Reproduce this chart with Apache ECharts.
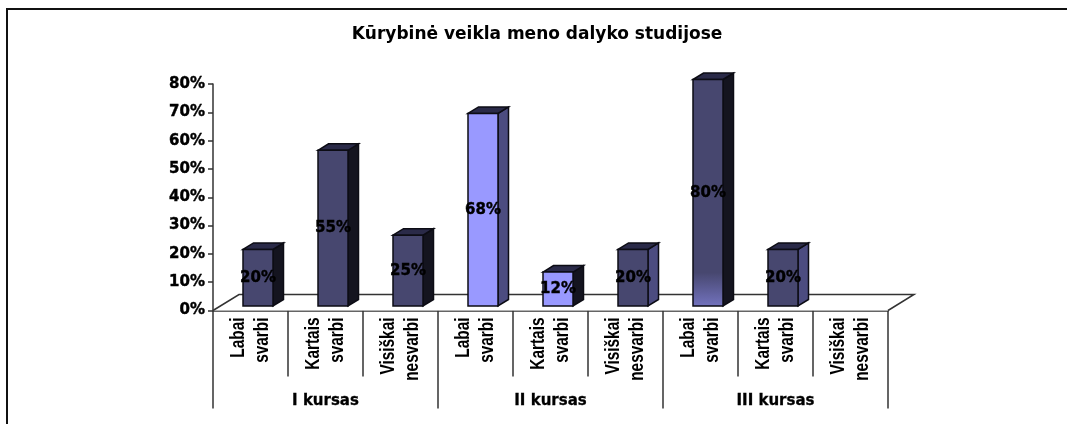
<!DOCTYPE html>
<html><head><meta charset="utf-8">
<style>html,body{margin:0;padding:0;background:#fff}#c{width:1067px;height:424px}</style>
<script src="https://cdn.jsdelivr.net/npm/echarts@6/dist/echarts.min.js"></script>
</head><body><div id="c"></div>
<script>
var title = 'Kūrybinė veikla meno dalyko studijose';
var categories = ['Labai\nsvarbi','Kartais\nsvarbi','Visiškai\nnesvarbi','Labai\nsvarbi','Kartais\nsvarbi','Visiškai\nnesvarbi','Labai\nsvarbi','Kartais\nsvarbi','Visiškai\nnesvarbi'];
var groups = ['I kursas','II kursas','III kursas'];
var values = [20,55,25,68,12,20,80,20,null];
var fronts = ['#47476F','#47476F','#47476F','#9999FF','#9999FF','#47476F','grad','#47476F','#47476F'];
var sides  = ['#14141F','#14141F','#14141F','#4C4C80','#14141F','#4C4C80','#14141F','#4C4C80','#14141F'];
var topColor = '#2A2A48', edge = '#0c0c14', axisColor = '#333333';
var boldWide = '"DejaVu Sans"';
var DX = 10.5, DY = 6.5, FX = 26, FY = 16, LIFT = 4.5;

var chart = echarts.init(document.getElementById('c'), null, {renderer:'canvas'});
chart.setOption({
  animation:false,
  backgroundColor:'#fff',
  title:{text:title,left:532,top:21,textAlign:'center',textStyle:{fontFamily:boldWide,fontWeight:'bold',fontSize:17,color:'#000'}},
  grid:{left:213,top:84,width:675,height:226.5,containLabel:false},
  xAxis:[
    {type:'category',data:categories,position:'bottom',
     axisLine:{show:true,lineStyle:{color:axisColor,width:1.5}},
     axisTick:{show:true,interval:0,length:66,lineStyle:{color:axisColor,width:1.5}},
     axisLabel:{show:false}},
    {type:'category',data:groups,position:'bottom',
     axisLine:{show:false},
     axisTick:{show:true,interval:0,length:98,lineStyle:{color:axisColor,width:1.5}},
     axisLabel:{show:true,interval:0,margin:83,fontFamily:boldWide,fontWeight:'bold',fontSize:15,color:'#000',textBorderColor:'#000',textBorderWidth:0.3}}
  ],
  yAxis:{type:'value',min:0,max:80,interval:10,
    axisLine:{show:true,lineStyle:{color:axisColor,width:1.5}},
    axisTick:{show:true,length:5,lineStyle:{color:axisColor,width:1.5}},
    splitLine:{show:false},
    axisLabel:{margin:8,formatter:'{value}%',fontFamily:boldWide,fontWeight:'bold',fontSize:15,color:'#000',textBorderColor:'#000',textBorderWidth:0.4}},
  series:[
    {type:'custom',xAxisIndex:0,yAxisIndex:0,z:1,silent:true,data:[[0,0]],clip:false,
     renderItem:function(p,api){
       var a=api.coord([0,0]), band=api.size([1,0])[0];
       var x0=a[0]-band/2, x1=x0+band*categories.length, y=a[1];
       return {type:'polyline',shape:{points:[[x0,y],[x0+FX,y-FY],[x1+FX,y-FY],[x1,y]]},
         style:{fill:'#fff',stroke:axisColor,lineWidth:1.5}};
     }},
    {type:'custom',xAxisIndex:0,yAxisIndex:0,z:2,silent:true,clip:false,
     encode:{x:0,y:1},
     data:values.map(function(v,i){return [i,v];}),
     renderItem:function(p,api){
       var v=api.value(1), i=api.value(0);
       if(v==null||isNaN(v)) return {type:'group',children:[]};
       var c=api.coord([i,v]), band=api.size([1,0])[0], w=band*0.4;
       var l=c[0]+band*0.1-w/2, r=l+w, t=c[1]-LIFT, b=api.coord([i,0])[1]-LIFT;
       var f=fronts[i]==='grad'
         ? new echarts.graphic.LinearGradient(0,0,0,1,[{offset:0,color:'#47476F'},{offset:0.85,color:'#47476F'},{offset:1,color:'#7373BF'}])
         : fronts[i];
       var lw=1.5;
       return {type:'group',children:[
         {type:'polygon',shape:{points:[[r,t],[r+DX,t-DY],[r+DX,b-DY],[r,b]]},style:{fill:sides[i],stroke:edge,lineWidth:lw}},
         {type:'polygon',shape:{points:[[l,t],[l+DX,t-DY],[r+DX,t-DY],[r,t]]},style:{fill:topColor,stroke:edge,lineWidth:lw}},
         {type:'rect',shape:{x:l,y:t,width:w,height:b-t},style:{fill:f,stroke:edge,lineWidth:lw}},
         {type:'text',z2:10,style:{x:(l+r)/2,y:(t+b)/2,text:v+'%',textAlign:'center',textVerticalAlign:'middle',
           font:'bold 15px "DejaVu Sans"',fill:'#000',stroke:'#000',lineWidth:0.4}}
       ]};
     }},
    {type:'custom',xAxisIndex:0,yAxisIndex:0,z:3,silent:true,clip:false,
     data:categories.map(function(c,i){return [i,0];}),
     renderItem:function(p,api){
       var i=api.value(0), c=api.coord([i,0]);
       return {type:'text',x:c[0],y:c[1]+7,rotation:Math.PI/2,scaleX:0.77,
         style:{x:0,y:0,text:categories[i],textAlign:'right',textVerticalAlign:'middle',
           font:'bold 20px "Liberation Sans"',lineHeight:24,fill:'#000'}};
     }}
  ],
  graphic:[
    {type:'polyline',silent:true,shape:{points:[[7,424],[7,9],[1067,9]]},style:{fill:'none',stroke:'#111',lineWidth:2}}
  ]
});
</script></body></html>
